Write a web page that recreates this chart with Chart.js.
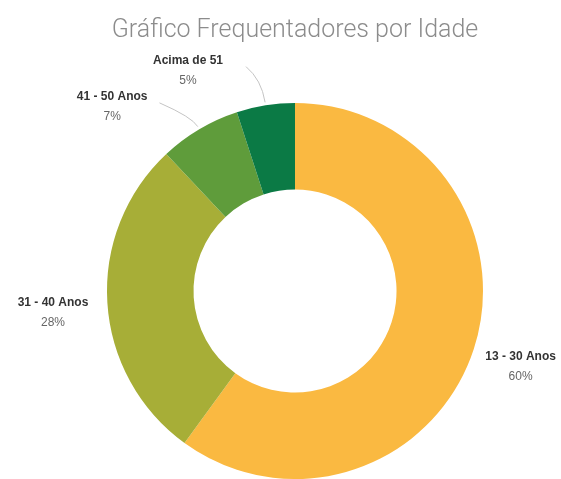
<!DOCTYPE html>
<html>
<head>
<meta charset="utf-8">
<script src="https://cdn.jsdelivr.net/npm/chart.js@4.4.1/dist/chart.umd.min.js"></script>
<style>
  body { margin: 0; background: #fff; }
  canvas { display: block; }
</style>
</head>
<body>
<canvas id="idadeChart" width="561" height="479"></canvas>
<script>
const faixas = ['13 - 30 Anos', '31 - 40 Anos', '41 - 50 Anos', 'Acima de 51'];
const percentuais = [60, 28, 7, 5];
const cores = ['#FAB941', '#A7AE37', '#5F9C3B', '#0B7A45'];
const titulo = 'Gráfico Frequentadores por Idade';

// "faixa / %" labels around the ring, with curved leader lines on the thin slices
const rotulosPlugin = {
  id: 'rotulos',
  afterDraw(chart, args, opts) {
    const ctx = chart.ctx;
    const meta = chart.getDatasetMeta(0);
    ctx.save();
    ctx.textAlign = 'center';
    ctx.textBaseline = 'middle';

    meta.data.forEach((arc, i) => {
      const p = arc.getProps(['x', 'y', 'startAngle', 'endAngle', 'outerRadius'], true);
      const mid = (p.startAngle + p.endAngle) / 2;
      const ang = mid + opts.shift[i] * Math.PI / 180;
      const dist = p.outerRadius + opts.distance[i];
      const lx = p.x + Math.cos(ang) * dist;
      const ly = p.y + Math.sin(ang) * dist;

      ctx.font = 'bold 12px "Liberation Sans", Arial, sans-serif';
      ctx.fillStyle = '#333';
      ctx.fillText(faixas[i], lx, ly - 10);
      const halfW = ctx.measureText(faixas[i]).width / 2;

      ctx.font = '12px "Liberation Sans", Arial, sans-serif';
      ctx.fillStyle = '#666';
      ctx.fillText(percentuais[i] + '%', lx, ly + 10);

      if (opts.leader[i]) {
        const r0 = p.outerRadius + 3;
        const r1 = p.outerRadius + opts.leader[i].bend;
        const ex = lx + halfW + opts.leader[i].gap;
        const ey = ly - 4;
        ctx.beginPath();
        ctx.moveTo(p.x + Math.cos(mid) * r0, p.y + Math.sin(mid) * r0);
        ctx.quadraticCurveTo(p.x + Math.cos(mid) * r1, p.y + Math.sin(mid) * r1, ex, ey);
        ctx.strokeStyle = '#c4c4c4';
        ctx.lineWidth = 1;
        ctx.stroke();
      }
    });
    ctx.restore();
  }
};

new Chart(document.getElementById('idadeChart'), {
  type: 'doughnut',
  data: {
    labels: faixas,
    datasets: [{
      data: percentuais,
      backgroundColor: cores,
      borderWidth: 0,
      hoverOffset: 0
    }]
  },
  options: {
    responsive: false,
    animation: false,
    devicePixelRatio: 1,
    cutout: '54%',
    layout: {
      padding: { top: 0, left: 107, right: 78, bottom: 0 }
    },
    plugins: {
      legend: { display: false },
      tooltip: { enabled: false },
      title: {
        display: true,
        text: titulo,
        color: '#8c8c8c',
        font: { family: 'Roboto, "Open Sans", sans-serif', size: 25, weight: '300', lineHeight: 1.2 },
        padding: { top: 16, bottom: 57 }
      },
      rotulos: {
        shift: [0.6, -1.6, -14.2, -16.9],
        distance: [50, 55, 71.5, 57],
        leader: [null, null, { bend: 14, gap: 12 }, { bend: 26, gap: 23 }]
      }
    }
  },
  plugins: [rotulosPlugin]
});
</script>
</body>
</html>
